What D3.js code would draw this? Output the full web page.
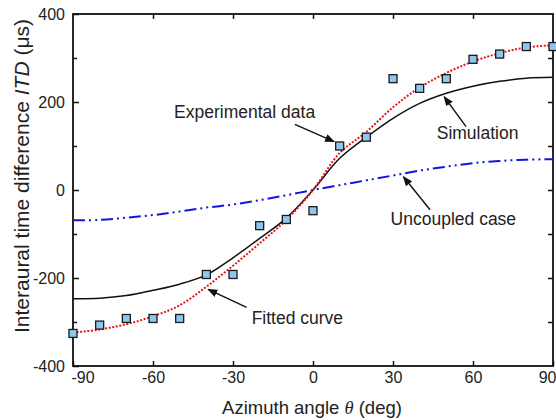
<!DOCTYPE html>
<html>
<head>
<meta charset="utf-8">
<script src="https://cdn.jsdelivr.net/npm/d3@7"></script>
<style>
  body { margin: 0; background: #fff; }
  svg { display: block; }
  text { font-family: "Liberation Sans", Arial, sans-serif; fill: #222; }
</style>
</head>
<body>
<svg id="chart"></svg>
<script>
// azimuth angles (deg) where all series are read
const angles    = [-90, -80, -70, -60, -50, -40, -30, -20, -10, 0, 10, 20, 30, 40, 50, 60, 70, 80, 90];
// experimental ITD (us), squares
const measured  = [-326, -307, -292, -292, -292, -192, -192, -81, -67, -47, 100, 120, 253, 231, 253, 297, 309, 326, 326];
// fitted curve (red dotted)
const fitted    = [-324, -317, -305, -287, -262, -220, -172, -121, -68, 0, 84, 132, 188, 233, 266, 292, 311, 324, 329];
// simulation (black solid)
const simulated = [-247, -246, -240, -228, -214, -193, -154, -110, -64, 0, 72, 120, 163, 197, 220, 236, 247, 254, 256];
// uncoupled case (blue dash-dot-dot)
const uncoupled = [-69, -68, -63, -57, -49, -40, -33, -23, -12, 0, 11, 22, 33, 44, 53, 61, 66, 69, 70];

const xTicks = [-90, -60, -30, 0, 30, 60, 90];
const yTicks = [-400, -200, 0, 200, 400];
const yMinor = [-300, -100, 100, 300];
const yAll = [-300, -200, -100, 0, 100, 200, 300];

// annotation labels and arrows, in data units
const notes = [
  { text: "Experimental data", tx: -52.1, ty: 164, x1: -6.8, y1: 149, x2: 7.9, y2: 110 },
  { text: "Simulation",        tx: 46.4,  ty: 116, x1: 57.4, y1: 144, x2: 49.2, y2: 212 },
  { text: "Uncoupled case",    tx: 29.1,  ty: -80, x1: 43.9, y1: -45, x2: 33.9, y2: 30 },
  { text: "Fitted curve",      tx: -23,   ty: -305, x1: -24.9, y1: -267, x2: -39.3, y2: -226 }
];

const W = 556, H = 420;
const margin = { top: 14, right: 3, bottom: 54, left: 73 };

const svg = d3.select("#chart").attr("width", W).attr("height", H);

const x = d3.scaleLinear().domain([-90, 90]).range([margin.left, W - margin.right]);
const y = d3.scaleLinear().domain([-400, 400]).range([H - margin.bottom, margin.top]);

const defs = svg.append("defs");
defs.append("clipPath").attr("id", "plot")
  .append("rect")
  .attr("x", x(-90)).attr("y", y(400))
  .attr("width", x(90) - x(-90)).attr("height", y(-400) - y(400));

defs.append("marker")
  .attr("id", "head")
  .attr("markerUnits", "userSpaceOnUse")
  .attr("markerWidth", 10).attr("markerHeight", 8)
  .attr("refX", 9).attr("refY", 4)
  .attr("orient", "auto")
  .append("path").attr("d", "M0,0 L10,4 L0,8 Z").attr("fill", "#111");

// plain hyphen for negative numbers, like the original
const fmt = d => String(d);

// axes (ticks pointing inward)
const tickStyle = g => {
  g.select(".domain").remove();
  g.selectAll(".tick line").attr("stroke", "#111").attr("stroke-width", 1.5);
  g.selectAll(".tick text").attr("font-size", 16).attr("fill", "#222")
    .style("font-family", '"Liberation Sans", Arial, sans-serif');
};

const xAxisG = svg.append("g")
  .attr("transform", `translate(0,${y(-400)})`)
  .call(d3.axisBottom(x).tickValues(xTicks).tickSize(-5).tickPadding(6).tickFormat(fmt))
  .call(tickStyle);
xAxisG.selectAll(".tick text")
  .attr("text-anchor", d => d === -90 ? "start" : d === 90 ? "end" : "middle")
  .attr("x", d => d === -90 ? -2 : d === 90 ? 3 : 0);

svg.append("g")
  .attr("transform", `translate(0,${y(400)})`)
  .call(d3.axisTop(x).tickValues(xTicks.slice(1, -1)).tickSize(-5).tickFormat(""))
  .call(tickStyle);

svg.append("g")
  .attr("transform", `translate(${x(-90)},0)`)
  .call(d3.axisLeft(y).tickValues(yTicks).tickSize(-6).tickPadding(8).tickFormat(fmt))
  .call(tickStyle)
  .call(g => g.selectAll(".tick text").attr("dy", "0.36em"));

svg.append("g")
  .attr("transform", `translate(${x(-90)},0)`)
  .call(d3.axisLeft(y).tickValues(yMinor).tickSize(-4).tickFormat(""))
  .call(tickStyle);

svg.append("g")
  .attr("transform", `translate(${x(90)},0)`)
  .call(d3.axisRight(y).tickValues(yAll).tickSize(-5).tickFormat(""))
  .call(tickStyle);

// frame
svg.append("rect")
  .attr("x", x(-90)).attr("y", y(400))
  .attr("width", x(90) - x(-90)).attr("height", y(-400) - y(400))
  .attr("fill", "none").attr("stroke", "#111").attr("stroke-width", 1.8);

// curves
const plot = svg.append("g").attr("clip-path", "url(#plot)");
const line = vals => d3.line()
  .x((d, i) => x(angles[i]))
  .y(d => y(d))
  .curve(d3.curveCatmullRom.alpha(0.5))(vals);

plot.append("path").attr("d", line(uncoupled))
  .attr("fill", "none").attr("stroke", "#1414e0").attr("stroke-width", 2)
  .attr("stroke-dasharray", "12,4,2,4,2,4");

plot.append("path").attr("d", line(simulated))
  .attr("fill", "none").attr("stroke", "#111").attr("stroke-width", 1.5);

plot.append("path").attr("d", line(fitted))
  .attr("fill", "none").attr("stroke", "#e8141c").attr("stroke-width", 2)
  .attr("stroke-dasharray", "2,1.6");

// experimental squares
svg.append("g").selectAll("rect")
  .data(measured)
  .join("rect")
  .attr("x", (d, i) => x(angles[i]) - 4)
  .attr("y", d => y(d) - 4)
  .attr("width", 8).attr("height", 8)
  .attr("fill", "#8fc6ef").attr("stroke", "#1a1a1a").attr("stroke-width", 1.3);

// annotations
const ann = svg.append("g");
notes.forEach(n => {
  ann.append("text")
    .attr("x", x(n.tx)).attr("y", y(n.ty))
    .attr("font-size", 17.5)
    .text(n.text);
  ann.append("line")
    .attr("x1", x(n.x1)).attr("y1", y(n.y1))
    .attr("x2", x(n.x2)).attr("y2", y(n.y2))
    .attr("stroke", "#111").attr("stroke-width", 1.4)
    .attr("marker-end", "url(#head)");
});

// axis titles
const xt = svg.append("text")
  .attr("x", (x(-90) + x(90)) / 2 - 1).attr("y", 414)
  .attr("text-anchor", "middle").attr("font-size", 18.5);
xt.append("tspan").text("Azimuth angle ");
xt.append("tspan").style("font-family", '"Liberation Serif", "Times New Roman", serif')
  .attr("font-style", "italic").text("θ");
xt.append("tspan").text(" (deg)");

const yt = svg.append("text")
  .attr("transform", `translate(29,${(y(400) + y(-400)) / 2 - 14}) rotate(-90)`)
  .attr("text-anchor", "middle").attr("font-size", 21);
yt.append("tspan").text("Interaural time difference ");
yt.append("tspan").attr("font-style", "italic").text("ITD");
yt.append("tspan").text(" (μs)");
</script>
</body>
</html>
